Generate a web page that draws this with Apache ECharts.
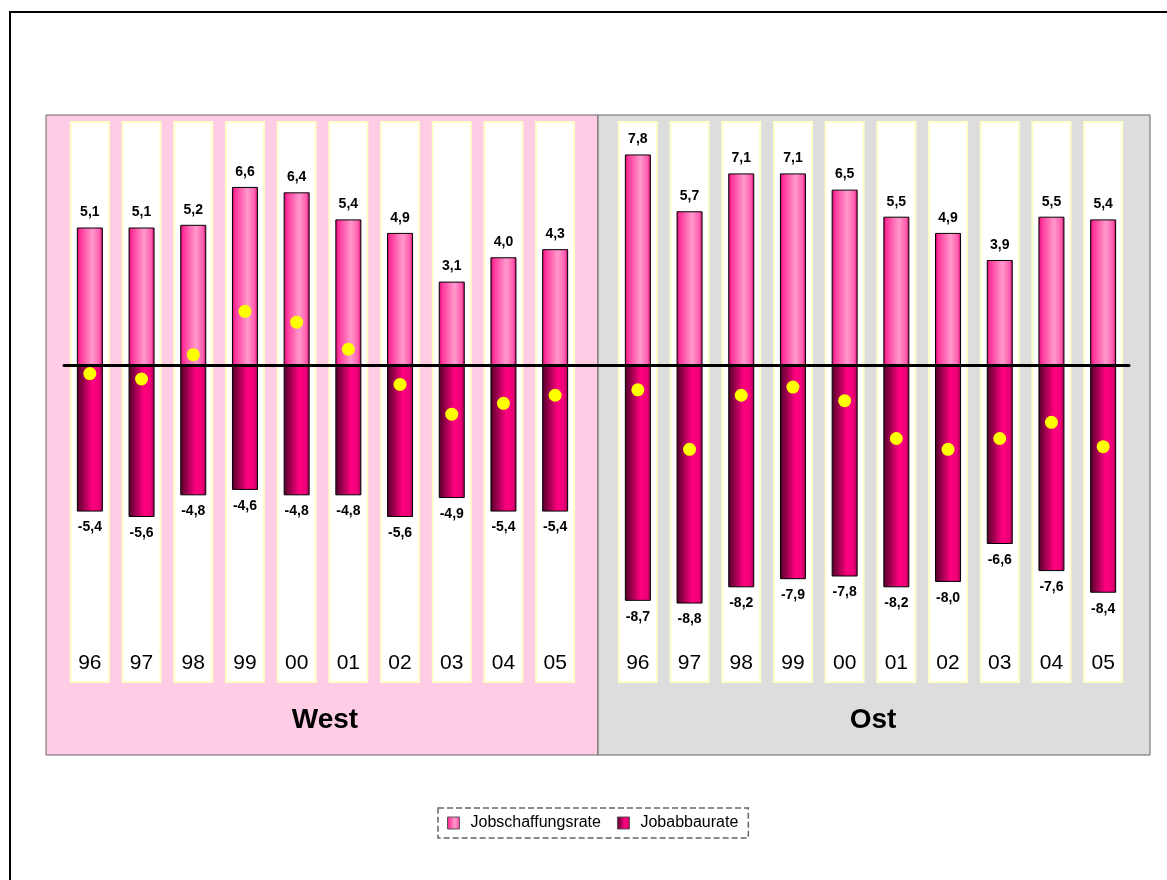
<!DOCTYPE html>
<html><head><meta charset="utf-8">
<script src="https://cdn.jsdelivr.net/npm/echarts@6/dist/echarts.min.js"></script>
<style>html,body{margin:0;padding:0;background:#fff}#c{width:1167px;height:880px}</style>
</head><body><div id="c"></div>
<script>
const years = ['96','97','98','99','00','01','02','03','04','05'];
const westCreation = [5.1,5.1,5.2,6.6,6.4,5.4,4.9,3.1,4.0,4.3];
const westDestruction = [-5.4,-5.6,-4.8,-4.6,-4.8,-4.8,-5.6,-4.9,-5.4,-5.4];
const westNet = [-0.3,-0.5,0.4,2.0,1.6,0.6,-0.7,-1.8,-1.4,-1.1];
const ostCreation = [7.8,5.7,7.1,7.1,6.5,5.5,4.9,3.9,5.5,5.4];
const ostDestruction = [-8.7,-8.8,-8.2,-7.9,-7.8,-8.2,-8.0,-6.6,-7.6,-8.4];
const ostNet = [-0.9,-3.1,-1.1,-0.8,-1.3,-2.7,-3.1,-2.7,-2.1,-3.0];
const panelNames = ['West','Ost'];
const seriesNames = ['Jobschaffungsrate','Jobabbaurate'];

const FONT = 'Liberation Sans, Arial, sans-serif';
const fmt = p => p.value.toFixed(1).replace('.', ',');
const Y_MIN = -11.7, Y_MAX = 9;

const creationColor = new echarts.graphic.LinearGradient(0,0,1,0,[
  {offset:0,color:'#cc0066'},{offset:0.12,color:'#ff3399'},{offset:0.6,color:'#ff99cc'},
  {offset:0.88,color:'#ff5cae'},{offset:1,color:'#c00060'}]);
const destructionColor = new echarts.graphic.LinearGradient(0,0,1,0,[
  {offset:0,color:'#500028'},{offset:0.25,color:'#99004c'},{offset:0.6,color:'#ff0080'},
  {offset:0.85,color:'#ee0078'},{offset:1,color:'#990049'}]);

const gridsPos = [{left:64,width:517},{left:612,width:517},{left:581,width:31}];
const grid = gridsPos.map(g => ({left:g.left,width:g.width,top:122,height:560,containLabel:false}));

const xAxis = [];
const yAxis = [];
const series = [];
const data = [[westCreation,westDestruction,westNet],[ostCreation,ostDestruction,ostNet]];
const valueLabel = {show:true,formatter:fmt,fontSize:14,fontWeight:'bold',color:'#000',fontFamily:FONT};

for (let g = 0; g < 2; g++) {
  xAxis.push({type:'category',gridIndex:g,data:years,z:5,
    axisLine:{show:true,onZero:true,lineStyle:{color:'#000',width:3}},
    axisTick:{show:false},axisLabel:{show:false}});
  xAxis.push({type:'category',gridIndex:g,data:years,position:'bottom',z:5,
    axisLine:{show:false,onZero:false},axisTick:{show:false},
    axisLabel:{show:true,inside:true,margin:8,fontSize:21,color:'#000',fontFamily:FONT}});
  yAxis.push({type:'value',gridIndex:g,min:Y_MIN,max:Y_MAX,show:false,splitLine:{show:false}});
  const ax = 2*g;
  series.push({type:'bar',name:'bg'+g,xAxisIndex:ax+1,yAxisIndex:g,barWidth:38,silent:true,z:1,
    data:years.map(()=>0),itemStyle:{color:'rgba(0,0,0,0)'},
    showBackground:true,backgroundStyle:{color:'#ffffff',borderColor:'#ffffc8',borderWidth:2}});
  series.push({type:'bar',name:seriesNames[0],xAxisIndex:ax,yAxisIndex:g,stack:'s'+g,barWidth:26,z:2,
    data:data[g][0],itemStyle:{color:creationColor,borderColor:'#000',borderWidth:1},
    label:Object.assign({position:'top',distance:8},valueLabel)});
  series.push({type:'bar',name:seriesNames[1],xAxisIndex:ax,yAxisIndex:g,stack:'s'+g,barWidth:26,z:2,
    data:data[g][1],itemStyle:{color:destructionColor,borderColor:'#000',borderWidth:1},
    label:Object.assign({position:'bottom',distance:9},valueLabel)});
  series.push({type:'scatter',name:'net'+g,xAxisIndex:ax,yAxisIndex:g,z:6,symbol:'circle',symbolSize:13,
    data:data[g][2],itemStyle:{color:'#ffff00',opacity:1},silent:true});
}
// connecting zero line between panels
xAxis.push({type:'category',gridIndex:2,data:[''],z:5,
  axisLine:{show:true,onZero:true,lineStyle:{color:'#000',width:3}},axisTick:{show:false},axisLabel:{show:false}});
yAxis.push({type:'value',gridIndex:2,min:Y_MIN,max:Y_MAX,show:false,splitLine:{show:false}});

const option = {
  animation:false,
  backgroundColor:'#ffffff',
  textStyle:{fontFamily:FONT},
  grid, xAxis, yAxis, series,
  legend:{data:seriesNames,left:438,top:808,orient:'horizontal',icon:'rect',itemWidth:12,itemHeight:12,itemGap:16,
    padding:[7,10,7,9],borderColor:'#666',borderWidth:1.5,borderType:'dashed',
    textStyle:{fontSize:16,color:'#000',fontFamily:FONT,padding:[0,0,0,6]},
    itemStyle:{borderColor:'#555',borderWidth:1}},
  graphic:{elements:[
    {type:'rect',z:-10,shape:{x:10,y:12,width:1200,height:900},style:{fill:'#fff',stroke:'#000',lineWidth:2}},
    {type:'rect',z:-9,shape:{x:46,y:115,width:552,height:640},style:{fill:'#ffcce6',stroke:'#666',lineWidth:1}},
    {type:'rect',z:-9,shape:{x:598,y:115,width:552,height:640},style:{fill:'#dddddd',stroke:'#666',lineWidth:1}},
    {type:'text',z:10,style:{text:panelNames[0],x:325,y:720,align:'center',verticalAlign:'middle',font:'bold 28px '+FONT,fill:'#000'}},
    {type:'text',z:10,style:{text:panelNames[1],x:873,y:720,align:'center',verticalAlign:'middle',font:'bold 28px '+FONT,fill:'#000'}}
  ]}
};
const chart = echarts.init(document.getElementById('c'),null,{renderer:'canvas'});
chart.setOption(option);
</script></body></html>
